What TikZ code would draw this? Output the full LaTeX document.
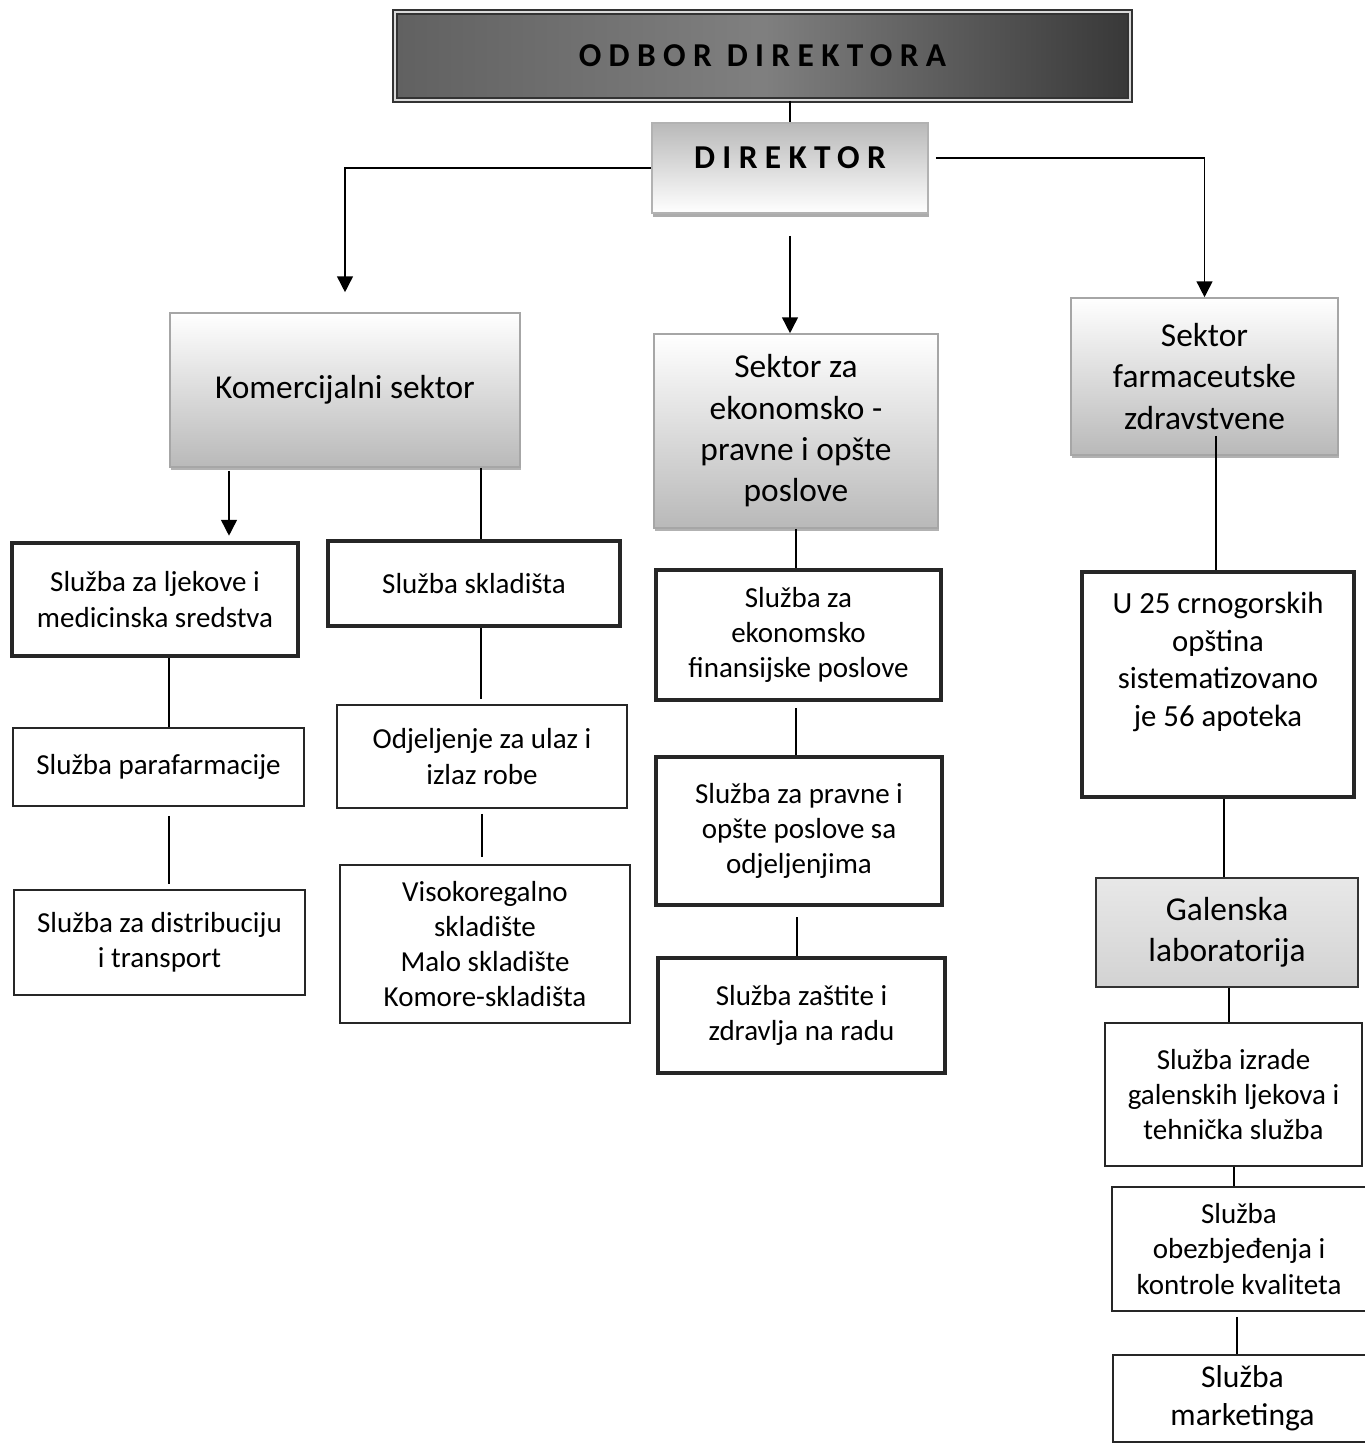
\documentclass[tikz,border=0pt]{standalone}
\usepackage{fontspec}
\setmainfont{Carlito}
\newfontfamily\spacedfont[LetterSpace=22]{Carlito}
\usetikzlibrary{arrows.meta,shadows}

\begin{document}
\begin{tikzpicture}[
  sektor/.style={draw=gray!70, top color=white, bottom color=gray!55, align=center,
    drop shadow={shadow xshift=0.5pt, shadow yshift=-1.5pt, fill=black!60},
    font=\fontsize{19}{23.5}\selectfont},
  thickbox/.style={draw=black!85, line width=2.6pt, fill=white, align=center,
    font=\fontsize{16.5}{20}\selectfont},
  thinbox/.style={draw=black!85, line width=1pt, fill=white, align=center,
    font=\fontsize{16.5}{20}\selectfont},
  arr/.style={-{Triangle[width=9pt,length=9pt]}},
  every path/.style={line width=0.9pt}]
\useasboundingbox (0,0) rectangle (27.28,-28.9);
% uprava
\node[draw=black!80, double=gray!30, double distance=1.5pt, left color=black!62, right color=black!78,
  middle color=black!50, minimum width=14.7cm, minimum height=1.76cm,
  font=\spacedfont\fontsize{19}{22}\selectfont\bfseries] (odbor) at (15.25,-1.12) {ODBOR DIREKTORA};
\node[draw=gray!60, top color=gray!55, bottom color=white, minimum width=5.52cm, minimum height=1.8cm,
  text depth=0.4cm, drop shadow={shadow xshift=0.5pt, shadow yshift=-2pt, fill=black!65},
  font=\spacedfont\fontsize{19}{22}\selectfont\bfseries] (direktor) at (15.80,-3.36) {DIREKTOR};
% sektori
\node[sektor, minimum width=7.0cm, minimum height=3.08cm] (kom) at (6.90,-7.80) {Komercijalni sektor};
\node[sektor, minimum width=5.68cm, minimum height=3.88cm] (ekon) at (15.92,-8.62)
  {Sektor za\\ ekonomsko -\\ pravne i opšte\\ poslove};
\node[sektor, minimum width=5.34cm, minimum height=3.14cm] (farm) at (24.09,-7.53)
  {Sektor\\ farmaceutske\\ zdravstvene};
% komercijalni
\node[thickbox, minimum width=5.72cm, minimum height=2.26cm] (lj) at (3.10,-11.99)
  {Služba za ljekove i\\ medicinska sredstva};
\node[thickbox, minimum width=5.84cm, minimum height=1.7cm] (skl) at (9.48,-11.67) {Služba skladišta};
\node[thinbox, minimum width=5.82cm, minimum height=1.56cm] (para) at (3.17,-15.34) {Služba parafarmacije};
\node[thinbox, minimum width=5.82cm, minimum height=2.1cm] (dist) at (3.19,-18.85)
  {Služba za distribuciju\\ i transport};
\node[thinbox, minimum width=5.8cm, minimum height=2.06cm] (ulaz) at (9.64,-15.13)
  {Odjeljenje za ulaz i\\ izlaz robe};
\node[thinbox, minimum width=5.8cm, minimum height=3.16cm] (visoko) at (9.70,-18.88)
  {Visokoregalno\\ skladište\\ Malo skladište\\ Komore-skladišta};
% ekonomsko-pravni
\node[thickbox, minimum width=5.7cm, minimum height=2.6cm] (ekfin) at (15.97,-12.70)
  {Služba za\\ ekonomsko\\ finansijske poslove};
\node[thickbox, minimum width=5.72cm, minimum height=2.96cm] (prav) at (15.98,-16.62)
  {Služba za pravne i\\ opšte poslove sa\\ odjeljenjima};
\node[thickbox, minimum width=5.74cm, minimum height=2.3cm] (zast) at (16.03,-20.31)
  {Služba zaštite i\\ zdravlja na radu};
% farmaceutski
\node[thickbox, minimum width=5.44cm, minimum height=4.5cm] (apot) at (24.36,-13.69) {};
\node[align=center, font=\fontsize{17.5}{21.5}\selectfont] (apottxt) at (24.36,-13.24)
  {U 25 crnogorskih\\ opština\\ sistematizovano\\ je 56 apoteka};
\node[draw=black!80, top color=gray!18, bottom color=gray!35, minimum width=5.24cm, minimum height=2.18cm,
  align=center, font=\fontsize{19}{23.5}\selectfont] (galen) at (24.54,-18.65) {Galenska\\ laboratorija};
\node[thinbox, minimum width=5.14cm, minimum height=2.86cm] (izrade) at (24.67,-21.89)
  {Služba izrade\\ galenskih ljekova i\\ tehnička služba};
\node[thinbox, minimum width=5.08cm, minimum height=2.48cm] (obezb) at (24.78,-24.98)
  {Služba\\ obezbjeđenja i\\ kontrole kvaliteta};
\node[thinbox, minimum width=5.18cm, minimum height=1.74cm, font=\fontsize{18}{21.5}\selectfont]
  (mark) at (24.85,-27.97) {Služba\\ marketinga};
% veze
\coordinate (dirright) at ([yshift=0.2cm]direktor.east);
\draw (odbor.south -| direktor.north) -- (direktor.north);
\draw[arr, shorten >=0.4cm] (direktor.west) -| (kom.north);
\draw[arr, shorten <=0.44cm] (direktor.south) -- (direktor.south |- ekon.north);
\draw[arr, shorten <=0.14cm] (dirright) -| (farm.north);
\draw[arr, shorten <=0.06cm, shorten >=0.1cm] (kom.south -| 4.58,0) -- (lj.north -| 4.58,0);
\draw (kom.south -| 9.62,0) -- (skl.north -| 9.62,0);
\draw (lj.south -| 3.38,0) -- (para.north -| 3.38,0);
\draw[shorten <=0.18cm, shorten >=0.1cm] (para.south -| 3.38,0) -- (dist.north -| 3.38,0);
\draw[shorten >=0.1cm] (skl.south -| 9.62,0) -- (ulaz.north -| 9.62,0);
\draw[shorten <=0.1cm, shorten >=0.14cm] (ulaz.south -| 9.64,0) -- (visoko.north -| 9.64,0);
\draw (ekon.south -| 15.92,0) -- (ekfin.north -| 15.92,0);
\draw[shorten <=0.12cm] (ekfin.south -| 15.92,0) -- (prav.north -| 15.92,0);
\draw[shorten <=0.2cm] (prav.south -| 15.94,0) -- (zast.north -| 15.94,0);
\draw[shorten <=-0.4cm] (farm.south -| 24.32,0) -- (apot.north -| 24.32,0);
\draw (apot.south -| 24.48,0) -- (galen.north -| 24.48,0);
\draw (galen.south -| 24.58,0) -- (izrade.north -| 24.58,0);
\draw (izrade.south -| 24.68,0) -- (obezb.north -| 24.68,0);
\draw[shorten <=0.1cm] (obezb.south -| 24.74,0) -- (mark.north -| 24.74,0);
\end{tikzpicture}
\end{document}
